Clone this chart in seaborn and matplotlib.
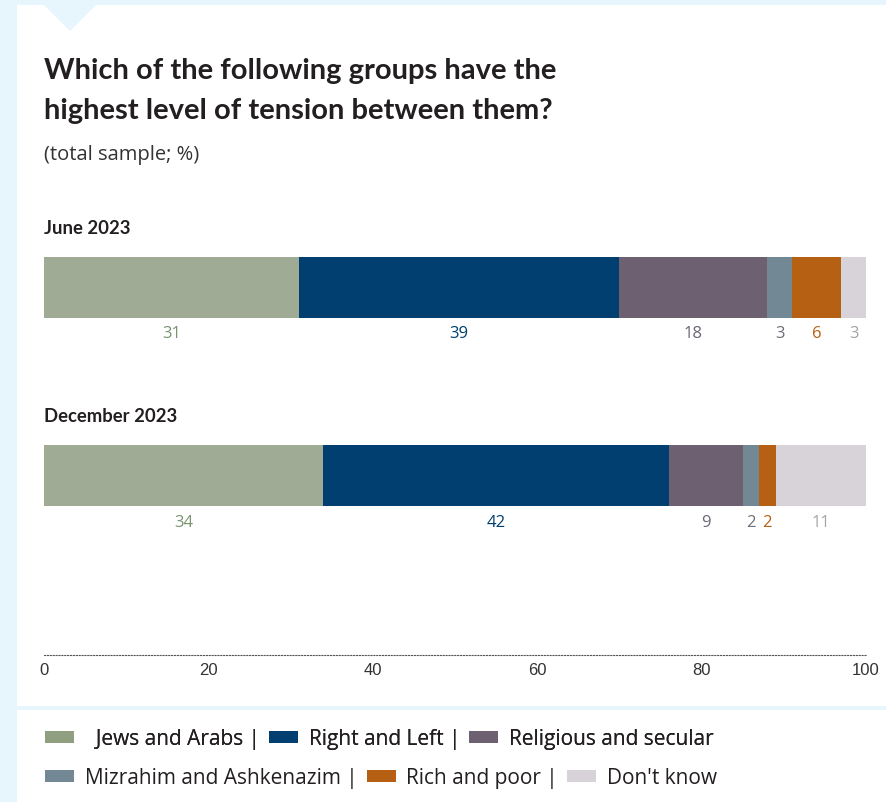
import numpy as np
import pandas as pd
import matplotlib
matplotlib.use("Agg")
import matplotlib.pyplot as plt
from matplotlib.patches import Rectangle, Polygon, Patch
import seaborn as sns

# ---- data ----
categories = ["Jews and Arabs", "Right and Left", "Religious and secular",
              "Mizrahim and Ashkenazim", "Rich and poor", "Don't know"]
periods = ["June 2023", "December 2023"]
june_values = [31, 39, 18, 3, 6, 3]
december_values = [34, 42, 9, 2, 2, 11]
x_ticks = [0, 20, 40, 60, 80, 100]

bar_colors = ["#a0ab96", "#003f6f", "#6d6070", "#738895", "#b66013", "#d7d3d9"]
legend_colors = ["#8f9f80", "#003f6f", "#6d6070", "#738895", "#b66013", "#d7d3d9"]
label_colors = ["#7a9470", "#003f6f", "#6d6476", "#6e6e78", "#b66013", "#a8a2ab"]

sns.set_theme(style="white")
plt.rcParams["font.family"] = ["Lato", "DejaVu Sans"]

W, H = 886, 803
fig = plt.figure(figsize=(W / 100, H / 100), dpi=100)
bg = "#e7f5fc"
fig.patch.set_facecolor(bg)

def fx(px):
    return px / W

def fy(py):
    return (H - py) / H

# white panels (behind the axes)
fig.patches.append(Rectangle((fx(17), fy(707)), fx(886) - fx(17), fy(6) - fy(707),
                             transform=fig.transFigure, facecolor="white", edgecolor="none", zorder=-3))
fig.patches.append(Rectangle((fx(17), fy(803)), fx(886) - fx(17), fy(711) - fy(803),
                             transform=fig.transFigure, facecolor="white", edgecolor="none", zorder=-3))
fig.patches.append(Polygon([(fx(43), fy(5)), (fx(97), fy(5)), (fx(70), fy(32))],
                           closed=True, transform=fig.transFigure, facecolor=bg,
                           edgecolor="none", zorder=-2))

# axes
ax_bottom_px, ax_top_px = 656, 175
ax = fig.add_axes([fx(44), fy(ax_bottom_px), fx(866) - fx(44), fy(ax_top_px) - fy(ax_bottom_px)])
ax.set_facecolor("none")

df = pd.DataFrame({
    "period": np.repeat(periods, len(categories)),
    "category": categories * len(periods),
    "value": june_values + december_values,
})
df["cum"] = df.groupby("period")["value"].cumsum()
df["start"] = df["cum"] - df["value"]

for i in range(len(categories) - 1, -1, -1):
    sub = df[df["category"] == categories[i]]
    sns.barplot(data=sub, x="cum", y="period", order=periods, orient="h",
                color=bar_colors[i], saturation=1, width=61 / 189,
                linewidth=0, ax=ax, errorbar=None)

# value labels below segments
for _, r in df.iterrows():
    yi = periods.index(r["period"])
    ci = categories.index(r["category"])
    ax.text(r["start"] + r["value"] / 2, yi + 0.245, f"{int(r['value'])}",
            ha="center", va="center", fontsize=12, color=label_colors[ci],
            family=["Open Sans", "DejaVu Sans"])

ax.set_xlim(0, 100)
ax.set_ylim(1.95, -0.6)
ax.set_xticks(x_ticks)
ax.set_xticklabels([str(t) for t in x_ticks], fontsize=12, color="#333333",
                   family=["Liberation Sans", "DejaVu Sans"])
ax.set_yticks([])
ax.set_xlabel("")
ax.set_ylabel("")
for s in ["top", "left", "right"]:
    ax.spines[s].set_visible(False)
ax.spines["bottom"].set_linestyle((0, (1, 1.6)))
ax.spines["bottom"].set_color("#555555")
ax.spines["bottom"].set_linewidth(0.8)
ax.tick_params(axis="x", length=0, pad=5)

# titles
fig.text(fx(44), fy(71), "Which of the following groups have the", fontsize=21,
         fontweight="bold", color="#231f20", va="center", ha="left")
fig.text(fx(44), fy(111), "highest level of tension between them?", fontsize=21,
         fontweight="bold", color="#231f20", va="center", ha="left")
fig.text(fx(44), fy(155), "(total sample; %)", fontsize=14.5, color="#333333",
         va="center", ha="left", family=["Open Sans", "DejaVu Sans"])
fig.text(fx(44), fy(228), periods[0], fontsize=13.3, fontweight="bold",
         color="#231f20", va="center", ha="left")
fig.text(fx(44), fy(417), periods[1], fontsize=13.3, fontweight="bold",
         color="#231f20", va="center", ha="left")

# legend (two rows)
handles = [Patch(facecolor=c, edgecolor="none") for c in legend_colors]
labels = ["  " + categories[0] + " |", categories[1] + " |", categories[2],
          categories[3] + " |", categories[4] + " |", categories[5]]
leg_kw = dict(ncol=3, frameon=False, handlelength=1.4, handleheight=0.45,
              handletextpad=0.5, columnspacing=0.45, borderaxespad=0, borderpad=0,
              loc="center left", labelcolor="#231f20",
              prop={"family": ["Open Sans", "DejaVu Sans"], "size": 15})
leg1 = fig.legend(handles[:3], labels[:3], bbox_to_anchor=(fx(45), fy(740)), **leg_kw)
fig.add_artist(leg1)
leg2 = fig.legend(handles[3:], labels[3:], bbox_to_anchor=(fx(45), fy(779)), **leg_kw)

fig.savefig("out.png", dpi=100, facecolor=fig.get_facecolor())
